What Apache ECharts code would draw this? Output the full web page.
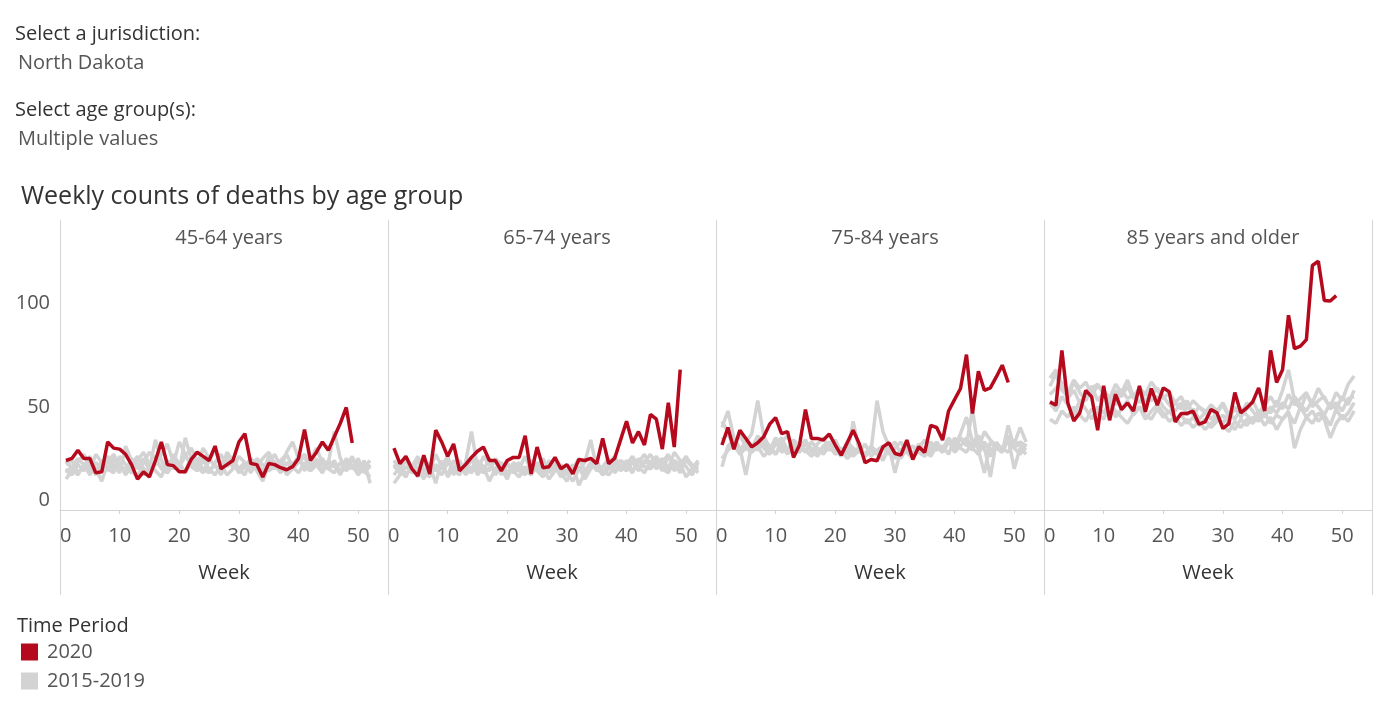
<!DOCTYPE html>
<html>
<head>
<meta charset="utf-8">
<script src="https://cdn.jsdelivr.net/npm/echarts@6/dist/echarts.min.js"></script>
<style>
html,body{margin:0;padding:0;background:#fff;}
#chart{width:1386px;height:715px;}
</style>
</head>
<body>
<div id="chart"></div>
<script>
// ---------- data ----------
const panelTitles = ['45-64 years', '65-74 years', '75-84 years', '85 years and older'];
const yTicks = [0, 50, 100];
const xTicks = [0, 10, 20, 30, 40, 50];

// 2020 weekly counts (weeks 1..49)
const red_45_64 = [24,25,29,25,25,18,18.5,33,30,29.5,27,22,15,18.5,16,24,33,22,21.5,18.5,18.5,24.5,28,26,24,31,20,22,24,33,37,22.5,22,16,22.5,22,20.5,19.5,21,25,39,24,28,33,29,35.5,42,49.7,32.5];
const red_65_74 = [30,22.5,26,20,16.5,26.5,17.5,38.7,33,26,32,19,22,25.5,28.5,30.5,24,24,19,24,25.5,25.5,36,17.5,30.5,20.5,21,25.5,20,22,17.5,24.5,24,25,22.5,34.7,22.5,25,34,43,32.5,38,31.5,46.3,44,29.5,52,30.5,68];
const red_75_84 = [31.5,40,29.4,38.7,34.7,30.6,32.6,35.5,41.6,44.8,37,38,25.5,31.5,48.7,34.7,34.7,33.9,36.8,31.5,26.6,32.6,38.7,32.3,22.9,24.5,23.9,30.6,32.6,27.4,26.6,33.9,24.5,30.6,27.9,41,40,33.9,48,53.5,58.9,75.3,46.8,67.3,58,59.2,64.5,70.2,61.8];
const red_85 = [52.4,50.8,77.4,51.9,43.2,47.1,58,54.8,38.7,60.2,43.5,56.1,48.7,51.9,48,60.2,47.6,58.9,50.8,59.2,57.3,42.7,46.8,46.8,47.9,41.6,42.7,48.7,47.1,39.5,41.9,56.9,47.1,49.5,52.4,59.2,48,77.4,61.8,68,94.4,78.2,79.4,82.6,118.5,120.6,101.6,101.3,103.9];

// 2015-2019 weekly counts (weeks 1..52), five years per age group
const grey_45_64 = [
  [20,17,22,19,24,18,21,25,19,23,17,22,26,20,18,24,21,19,27,22,18,23,20,25,19,22,17,24,21,20,23,18,25,22,19,21,24,17,20,23,26,19,22,18,24,21,19,23,20,25,18,22],
  [15,19,23,27,21,17,24,20,18,26,22,19,16,23,28,25,20,18,22,33,27,21,19,24,20,17,22,26,23,18,21,25,19,14,22,20,24,27,21,18,23,19,22,25,20,24,18,21,26,19,23,20],
  [22,24,18,21,26,20,14,23,27,21,19,25,22,17,20,34,24,19,23,21,26,30,24,20,18,23,27,21,25,19,22,20,24,18,26,23,20,28,33,25,21,19,24,22,20,18,23,19,22,17,21,24],
  [18,21,25,22,17,23,20,26,22,18,31,24,20,25,19,22,27,32,23,19,35,25,21,18,24,29,22,17,20,26,23,19,21,25,28,22,18,23,20,24,27,21,25,19,23,38,25,20,24,22,19,16],
  [24,20,17,22,19,27,23,19,25,21,20,18,24,28,22,19,16,24,20,23,18,26,22,30,25,21,19,28,24,20,17,25,22,19,23,27,21,18,22,26,19,24,30,23,20,22,17,25,21,18,24,13]
];
const grey_65_74 = [
  [22,18,25,20,16,23,19,27,21,17,24,20,18,26,22,19,25,17,21,23,18,20,26,19,22,17,24,21,18,14,20,25,19,23,21,17,22,26,20,24,19,23,27,21,25,20,18,24,22,26,21,19],
  [13,17,21,19,24,18,16,22,20,25,19,17,23,38,21,18,20,24,17,22,19,16,21,18,23,20,15,19,22,18,14,20,17,23,19,21,25,18,22,20,24,19,23,27,22,25,20,28,24,21,17,23],
  [20,23,17,21,26,19,22,13,24,16,20,23,19,25,17,21,14,20,23,18,22,19,17,24,20,25,18,21,16,19,22,12,18,21,24,17,20,23,19,22,26,21,18,24,20,23,27,19,22,16,20,24],
  [17,21,24,18,20,15,23,19,21,26,17,22,20,18,24,21,19,25,22,17,20,23,18,21,19,16,22,24,20,17,21,19,23,34,20,18,22,25,21,19,23,20,24,22,26,21,19,23,18,25,22,20],
  [24,19,16,22,20,25,18,21,17,23,20,24,17,21,19,26,22,18,20,15,23,21,19,17,22,18,20,23,19,22,18,21,15,20,23,19,17,21,24,22,18,25,21,20,23,19,26,22,20,24,21,18]
];
const grey_75_84 = [
  [34,37,31,28,33,30,36,32,29,35,31,27,33,30,34,28,32,35,29,31,27,33,30,28,32,26,29,31,27,30,33,28,25,31,29,27,32,30,34,28,31,35,30,27,33,29,31,28,34,30,27,32],
  [40,48,35,30,17,32,29,34,31,27,33,36,30,28,32,29,26,31,33,28,30,27,43,29,26,30,28,25,31,18,29,32,26,30,28,33,29,31,27,35,30,28,33,36,29,26,32,30,28,34,31,29],
  [21,31,34,29,33,37,53,36,30,27,32,29,34,31,28,33,30,27,31,29,26,32,28,30,27,29,53,38,31,28,25,30,27,32,29,26,31,28,33,30,35,32,29,36,31,16,33,29,35,20,30,27],
  [43,38,33,36,31,29,34,30,27,32,35,29,31,28,33,30,27,31,29,34,28,30,26,29,27,31,28,24,30,33,27,29,31,28,26,30,33,29,35,31,37,45,33,30,38,34,31,29,36,32,40,33],
  [25,29,32,27,30,28,31,26,29,33,28,30,27,32,29,26,30,28,31,27,29,25,28,30,26,29,27,31,28,25,29,32,27,30,34,29,31,28,33,30,35,31,49,29,18,33,30,28,41,30,33,31]
];
const grey_85 = [
  [60,66,58,55,62,57,53,59,61,56,52,58,55,60,54,57,53,56,59,55,51,48,52,46,49,44,47,50,45,42,47,44,49,46,43,48,45,50,47,52,49,55,51,48,53,50,46,52,49,55,51,58],
  [52,48,55,51,46,53,49,44,50,47,52,45,49,53,46,50,44,48,51,47,43,45,41,44,40,43,39,42,45,41,38,43,40,44,42,46,41,45,39,44,47,42,50,45,48,43,46,41,49,44,47,52],
  [64,68,61,57,63,59,62,56,60,58,54,61,57,63,55,59,56,62,58,54,57,52,55,49,53,50,47,51,48,52,46,50,45,49,53,47,51,55,50,58,68,53,49,56,52,59,54,50,57,53,61,65],
  [44,42,48,45,50,46,43,49,47,44,51,48,45,42,47,50,46,44,49,45,48,44,46,42,45,41,44,40,43,46,42,39,44,41,45,43,47,42,46,44,48,30,39,45,42,47,44,35,42,46,43,48],
  [56,59,62,54,58,52,56,60,53,57,55,51,58,54,56,52,57,53,55,50,47,52,49,53,46,50,48,44,47,51,45,49,46,52,48,44,50,47,53,49,56,51,54,57,50,53,55,49,52,48,54,55]
];

const redSeries = [red_45_64, red_65_74, red_75_84, red_85];
const greySeries = [grey_45_64, grey_65_74, grey_75_84, grey_85];

// ---------- layout ----------
const FONT = '"Open Sans", "Noto Sans", sans-serif';
const RED = '#B50A1E';
const GREY = '#D3D3D3';
const BORDER = '#D4D4D4';
const panelLeft = 60, panelW = 328, plotTop = 248, plotBottom = 510;
const frameTop = 220, frameBottom = 595;

const toPairs = arr => arr.map((v, i) => [i + 1, v]);

const grids = [], xAxes = [], yAxes = [], series = [], titles = [], graphics = [];

const head = {fontFamily: FONT, fontSize: 20, fontWeight: 'normal', color: '#333'};
const sub = {fontFamily: FONT, fontSize: 20, fontWeight: 'normal', color: '#555'};
titles.push(
  {text: 'Select a jurisdiction:', left: 10, top: 19, textStyle: head},
  {text: 'North Dakota', left: 13, top: 48, textStyle: sub},
  {text: 'Select age group(s):', left: 10, top: 95, textStyle: head},
  {text: 'Multiple values', left: 13, top: 124, textStyle: sub},
  {text: 'Weekly counts of deaths by age group', left: 16, top: 179, textStyle: {fontFamily: FONT, fontSize: 25, fontWeight: 'normal', color: '#333'}},
  {text: 'Time Period', left: 12, top: 611, textStyle: head}
);

for (let p = 0; p < 4; p++) {
  const left = panelLeft + p * panelW;
  grids.push({left: left, top: plotTop, width: panelW, height: plotBottom - plotTop, containLabel: false});
  xAxes.push({
    type: 'value', gridIndex: p, min: 0, max: 55, interval: 10,
    name: 'Week', nameLocation: 'middle', nameGap: 53,
    nameTextStyle: {fontFamily: FONT, fontSize: 20, color: '#333'},
    axisLine: {show: true, lineStyle: {color: BORDER, width: 1}},
    axisTick: {show: true, length: 4, lineStyle: {color: BORDER}},
    axisLabel: {
      fontFamily: FONT, fontSize: 20, color: '#555', margin: 16,
      showMaxLabel: false, alignMinLabel: 'left',
      formatter: v => (xTicks.indexOf(v) >= 0 ? String(v) : '')
    },
    splitLine: {show: false}
  });
  yAxes.push({
    type: 'value', gridIndex: p, min: 0, max: 127, interval: 50,
    axisLine: {show: false},
    axisTick: {show: false},
    axisLabel: {
      show: p === 0, fontFamily: FONT, fontSize: 20, color: '#555', margin: 10,
      showMaxLabel: false, verticalAlignMinLabel: 'bottom',
      formatter: v => (yTicks.indexOf(v) >= 0 ? String(v) : '')
    },
    splitLine: {show: false}
  });
  greySeries[p].forEach(arr => {
    series.push({
      name: '2015-2019', type: 'line', xAxisIndex: p, yAxisIndex: p,
      data: toPairs(arr), showSymbol: false, symbol: 'none', z: 2,
      lineStyle: {color: GREY, width: 3.5}, itemStyle: {color: GREY}
    });
  });
  series.push({
    name: '2020', type: 'line', xAxisIndex: p, yAxisIndex: p,
    data: toPairs(redSeries[p]), showSymbol: false, symbol: 'none', z: 3,
    lineStyle: {color: RED, width: 3.5}, itemStyle: {color: RED}
  });
  titles.push({
    text: panelTitles[p], left: left + panelW / 2, top: 223, textAlign: 'center',
    textStyle: {fontFamily: FONT, fontSize: 20, fontWeight: 'normal', color: '#555'}
  });
}
for (let p = 0; p <= 4; p++) {
  const x = panelLeft + p * panelW + 0.5;
  graphics.push({type: 'line', silent: true, shape: {x1: x, y1: frameTop, x2: x, y2: frameBottom}, style: {stroke: BORDER, lineWidth: 1}});
}

const chart = echarts.init(document.getElementById('chart'), null, {renderer: 'canvas'});
chart.setOption({
  animation: false,
  backgroundColor: '#fff',
  title: titles,
  grid: grids,
  xAxis: xAxes,
  yAxis: yAxes,
  series: series,
  graphic: graphics,
  legend: {
    orient: 'vertical', left: 16, top: 637, itemWidth: 17, itemHeight: 17, itemGap: 9,
    data: [{name: '2020', icon: 'rect'}, {name: '2015-2019', icon: 'rect'}],
    textStyle: {fontFamily: FONT, fontSize: 20, color: '#555', padding: [0, 0, 0, 4]},
    selectedMode: false
  }
});
</script>
</body>
</html>
